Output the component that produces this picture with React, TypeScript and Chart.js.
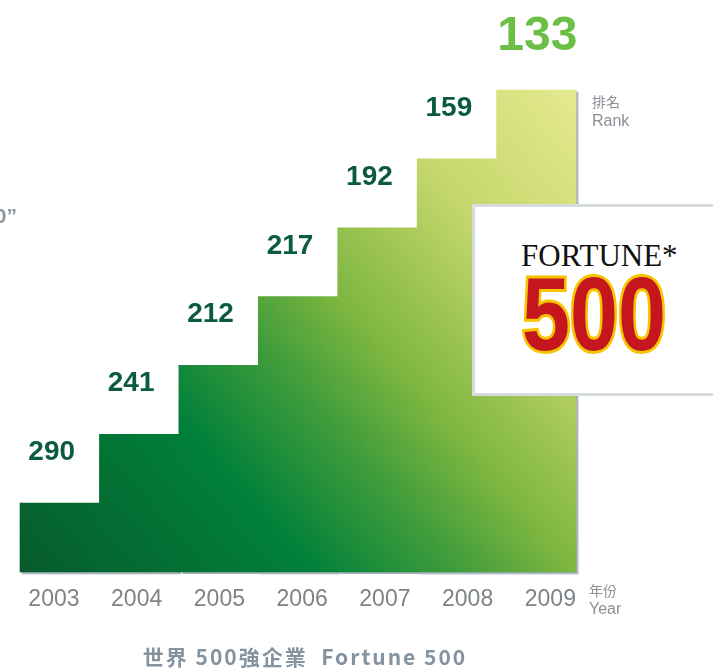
import React, { useEffect, useRef } from 'react';
import { Chart, registerables } from 'chart.js';

Chart.register(...registerables);

// ---- Data ----
const years: string[] = ['2003', '2004', '2005', '2006', '2007', '2008', '2009'];
const ranks: number[] = [290, 241, 212, 217, 192, 159, 133];
// visual step height of each bar (staircase levels)
const stepLevels: number[] = [1, 2, 3, 4, 5, 6, 7];

const rankLabelPlugin = {
  id: 'rankLabels',
  beforeDatasetDraw(chart: any) {
    const ctx = chart.ctx;
    ctx.save();
    ctx.shadowColor = 'rgba(150,165,175,0.85)';
    ctx.shadowOffsetX = 2;
    ctx.shadowOffsetY = 2;
    ctx.shadowBlur = 1;
  },
  afterDatasetDraw(chart: any) {
    chart.ctx.restore();
  },
  afterDatasetsDraw(chart: any) {
    const ctx = chart.ctx;
    const meta = chart.getDatasetMeta(0);
    ctx.save();
    ctx.textAlign = 'center';
    ctx.textBaseline = 'alphabetic';
    meta.data.forEach((bar: any, i: number) => {
      const last = i === ranks.length - 1;
      if (last) {
        ctx.font = 'bold 48px "Liberation Sans", Arial, sans-serif';
        ctx.fillStyle = '#6cbf45';
        ctx.fillText(String(ranks[i]), bar.x + 1, bar.y - 40);
      } else {
        ctx.font = 'bold 28px "Liberation Sans", Arial, sans-serif';
        ctx.fillStyle = '#0b5c3d';
        ctx.fillText(String(ranks[i]), bar.x - 8, bar.y - 43);
      }
    });
    ctx.restore();
  },
};

function gradientFill(context: any) {
  const chart = context.chart;
  const a = chart.chartArea;
  if (!a) return '#008037';
  const g = chart.ctx.createLinearGradient(a.left, a.bottom, a.right, a.top);
  g.addColorStop(0, '#075b2c');
  g.addColorStop(0.3, '#00803a');
  g.addColorStop(0.45, '#3f9c3b');
  g.addColorStop(0.57, '#7db640');
  g.addColorStop(0.78, '#c5d76c');
  g.addColorStop(1, '#e5e98f');
  return g;
}

export default function App() {
  const canvasRef = useRef<HTMLCanvasElement | null>(null);

  useEffect(() => {
    if (!canvasRef.current) return;
    const chart = new Chart(canvasRef.current, {
      type: 'bar',
      data: {
        labels: years,
        datasets: [
          {
            data: stepLevels,
            backgroundColor: gradientFill,
            borderWidth: 0,
            barPercentage: 1,
            categoryPercentage: 1,
            clip: false as any,
          },
        ],
      },
      options: {
        responsive: false,
        animation: false,
        layout: { padding: { top: 90, left: 20, right: 137, bottom: 0 } },
        plugins: {
          legend: { display: false },
          tooltip: { enabled: false },
          title: { display: false },
        },
        scales: {
          x: { type: 'category', display: false },
          yearAxis: {
            type: 'linear',
            position: 'bottom',
            axis: 'x',
            offset: false,
            bounds: 'data',
            min: -0.41,
            max: 6.31,
            grid: { display: false, drawTicks: false, offset: false },
            border: { display: false },
            afterBuildTicks: (scale: any) => {
              scale.ticks = years.map((_, i) => ({ value: i }));
            },
            afterFit: (scale: any) => {
              scale.height = 96;
            },
            ticks: {
              padding: 14,
              color: '#7d8387',
              font: { family: '"Liberation Sans", Arial, sans-serif', size: 23 },
              callback: (v: any) => years[Math.round(v)] ?? '',
              maxRotation: 0,
              autoSkip: false,
            },
          } as any,
          y: { display: false, min: 0, max: 7 },
        },
      },
      plugins: [rankLabelPlugin],
    });
    return () => chart.destroy();
  }, []);

  const gray = '#8a9096';
  const bigDigits: React.CSSProperties = {
    position: 'absolute',
    left: 522,
    top: 262,
    fontFamily: '"Liberation Sans", Arial, sans-serif',
    fontWeight: 700,
    fontSize: 104,
    lineHeight: 1,
    whiteSpace: 'nowrap',
    transform: 'scaleX(0.83)',
    transformOrigin: 'left top',
  };
  return (
    <div
      style={{
        position: 'absolute',
        left: 0,
        top: 0,
        width: 713,
        height: 668,
        overflow: 'hidden',
        background: '#ffffff',
      }}
    >
      <canvas ref={canvasRef} width={713} height={668} style={{ position: 'absolute', left: 0, top: 0 }} />

      {/* partial text cut at the left edge */}
      <div
        style={{
          position: 'absolute',
          right: 696,
          top: 204,
          font: 'bold 21px "Liberation Sans", Arial, sans-serif',
          color: '#8a97a0',
          lineHeight: '24px',
          whiteSpace: 'nowrap',
        }}
      >
        500”
      </div>

      {/* axis captions */}
      <div style={{ position: 'absolute', left: 592, top: 91, lineHeight: '20px', fontSize: 14, color: gray, fontFamily: '"Noto Sans CJK TC", sans-serif' }}>排名</div>
      <div style={{ position: 'absolute', left: 592, top: 111, lineHeight: '20px', fontSize: 16, color: gray, fontFamily: '"Liberation Sans", Arial, sans-serif' }}>Rank</div>
      <div style={{ position: 'absolute', left: 589, top: 580, lineHeight: '20px', fontSize: 14, color: gray, fontFamily: '"Noto Sans CJK TC", sans-serif' }}>年份</div>
      <div style={{ position: 'absolute', left: 589, top: 599, lineHeight: '20px', fontSize: 16, color: gray, fontFamily: '"Liberation Sans", Arial, sans-serif' }}>Year</div>

      {/* Fortune 500 logo box */}
      <div
        style={{
          position: 'absolute',
          left: 472,
          top: 204,
          width: 270,
          height: 186,
          border: '3px solid #d7dce0',
          background: '#ffffff',
        }}
      />
      <div
        style={{
          position: 'absolute',
          left: 521,
          top: 240,
          fontFamily: '"Liberation Serif", "Times New Roman", serif',
          fontSize: 31,
          lineHeight: 1,
          color: '#111111',
          whiteSpace: 'nowrap',
        }}
      >
        FORTUNE*
      </div>
      <div style={{ ...bigDigits, color: '#f6c400', WebkitTextStroke: '6px #f6c400' }} aria-hidden="true">
        500
      </div>
      <div style={{ ...bigDigits, color: '#c5161d' }}>500</div>

      {/* bottom title */}
      <div
        style={{
          position: 'absolute',
          left: 0,
          width: 610,
          top: 644,
          textAlign: 'center',
          fontFamily: '"Noto Sans CJK TC", sans-serif',
          fontWeight: 700,
          fontSize: 21,
          lineHeight: '24px',
          letterSpacing: 2,
          color: '#8593a0',
          whiteSpace: 'nowrap',
        }}
      >
        世界 500強企業&nbsp; Fortune 500
      </div>
    </div>
  );
}
